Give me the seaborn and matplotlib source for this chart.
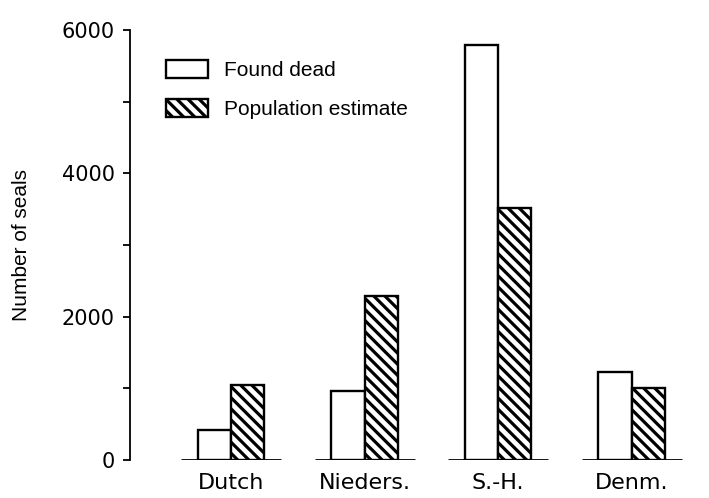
import pandas as pd
import matplotlib
matplotlib.use("Agg")
import matplotlib.pyplot as plt
from matplotlib.patches import Patch
from matplotlib.ticker import MultipleLocator
import seaborn as sns

# datos
regions = ["Dutch", "Nieders.", "S.-H.", "Denm."]
found_dead = [420, 960, 5790, 1230]
population = [1050, 2290, 3520, 1000]
series = ["Found dead", "Population estimate"]

df = pd.DataFrame({
    "region": regions * 2,
    "serie": [series[0]] * len(regions) + [series[1]] * len(regions),
    "valor": found_dead + population,
})

sns.set_style("ticks")
plt.rcParams["hatch.linewidth"] = 2.3
plt.rcParams["font.family"] = ["DejaVu Sans"]
plt.rcParams["text.color"] = "black"
plt.rcParams["xtick.color"] = "black"
plt.rcParams["ytick.color"] = "black"
plt.rcParams["axes.labelcolor"] = "black"
plt.rcParams["axes.edgecolor"] = "black"

fig = plt.figure(figsize=(7.09, 4.98), dpi=100)
ax = fig.add_axes([130 / 709, 38 / 498, 579 / 709, 430 / 498])

sns.barplot(data=df, x="region", y="valor", hue="serie", order=regions,
            hue_order=series, palette=["white", "white"], width=0.5,
            edgecolor="black", linewidth=1.7, legend=False, ax=ax)

# rayado de la estimacion de poblacion
hatch = "\\\\\\"
for bar in ax.containers[1]:
    bar.set_hatch(hatch)

# linea base de cada grupo
for i in range(len(regions)):
    ax.hlines(0, i - 0.375, i + 0.375, color="black", lw=2.0, zorder=3)

ax.set_ylim(0, 6000)
ax.set_xlim(-0.757, 3.58)
ax.yaxis.set_major_locator(MultipleLocator(2000))
ax.yaxis.set_minor_locator(MultipleLocator(1000))
ax.tick_params(axis="y", which="both", direction="out", length=5, width=1.3, labelsize=15, pad=6)
ax.tick_params(axis="x", length=0, labelsize=16, pad=9)
ax.set_xlabel("")
ax.set_ylabel("Number of seals", fontsize=15, family=["Liberation Sans"], labelpad=22)

sns.despine(ax=ax, bottom=True)
ax.spines["left"].set_linewidth(1.3)

handles = [Patch(facecolor="white", edgecolor="black", lw=1.7, label=series[0]),
           Patch(facecolor="white", edgecolor="black", lw=1.7, hatch=hatch, label=series[1])]
leg = ax.legend(handles=handles, loc="upper left", bbox_to_anchor=(0.03, 0.975),
                frameon=False, handlelength=2.0, handleheight=1.0, labelspacing=0.9,
                handletextpad=0.8, prop={"family": "Liberation Sans", "size": 15})

fig.savefig("out.png", dpi=100)
